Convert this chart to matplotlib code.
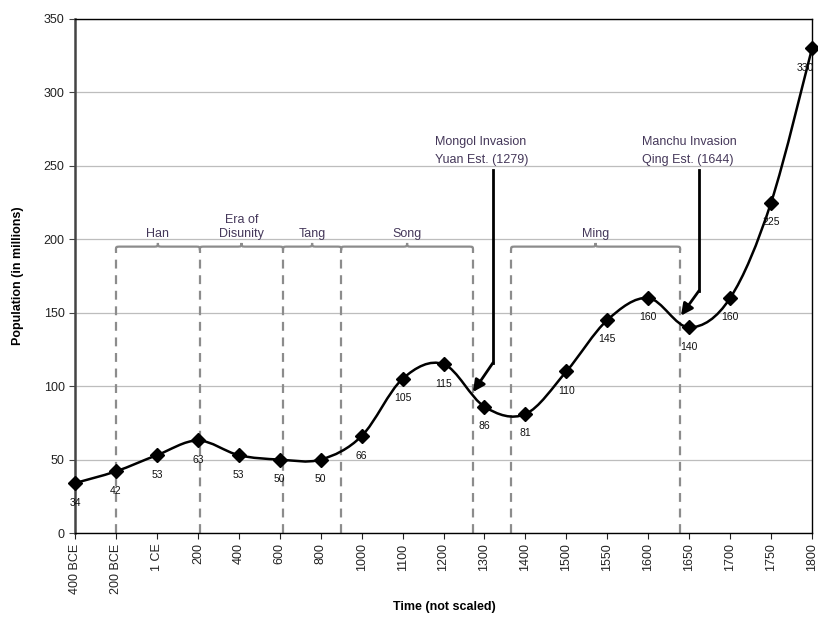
import numpy as np
import matplotlib.pyplot as plt
from matplotlib.path import Path
from matplotlib.patches import PathPatch

plt.rcParams['font.family'] = ['Liberation Sans', 'DejaVu Sans']

# population of China, millions
periods = ["400 BCE", "200 BCE", "1 CE", "200", "400", "600", "800", "1000",
           "1100", "1200", "1300", "1400", "1500", "1550", "1600", "1650",
           "1700", "1750", "1800"]
population = [34, 42, 53, 63, 53, 50, 50, 66, 105, 115, 86, 81, 110, 145,
              160, 140, 160, 225, 330]

# dynasties: name, start, end (in category units along the x axis)
dynasties = ["Han", "Era of\nDisunity", "Tang", "Song", "Ming"]
dyn_start = [1.0, 3.05, 5.08, 6.5, 10.65]
dyn_end = [3.05, 5.08, 6.5, 9.72, 14.78]

# invasion events: label, point on curve, elbow of the pointer, text anchor
events = ["Mongol Invasion\nYuan Est. (1279)", "Manchu Invasion\nQing Est. (1644)"]
event_tip = [(9.72, 96), (14.8, 148)]
event_elbow = [(10.21, 116), (15.24, 165)]
event_text = [(8.8, 250), (13.85, 250)]

BRACE_Y = 195
PURPLE = "#45385a"


def smooth_path(xs, ys):
    # Catmull-Rom style bezier through the points (like a "smoothed line")
    pts = np.column_stack([xs, ys]).astype(float)
    n = len(pts)
    verts = [pts[0]]
    codes = [Path.MOVETO]
    for i in range(n - 1):
        p0 = pts[i - 1] if i > 0 else pts[i]
        p1 = pts[i]
        p2 = pts[i + 1]
        p3 = pts[i + 2] if i + 2 < n else pts[i + 1]
        c1 = p1 + (p2 - p0) / 6.0
        c2 = p2 - (p3 - p1) / 6.0
        verts += [c1, c2, p2]
        codes += [Path.CURVE4] * 3
    return Path(verts, codes)


def brace(x0, x1, y, h=2.5, dx=0.12):
    mid = (x0 + x1) / 2
    verts = [(x0, y - h), (x0, y), (x0, y), (x0 + dx, y),
             (mid - dx, y), (mid, y), (mid, y), (mid, y + h),
             (mid, y), (mid, y), (mid + dx, y),
             (x1 - dx, y), (x1, y), (x1, y), (x1, y - h)]
    codes = [Path.MOVETO, Path.CURVE4, Path.CURVE4, Path.CURVE4,
             Path.LINETO, Path.CURVE4, Path.CURVE4, Path.CURVE4,
             Path.CURVE4, Path.CURVE4, Path.CURVE4,
             Path.LINETO, Path.CURVE4, Path.CURVE4, Path.CURVE4]
    return Path(verts, codes)


fig = plt.figure(figsize=(8.18, 6.2), dpi=100)
ax = fig.add_axes([0.0917, 0.1403, 0.9010, 0.8291])

x = np.arange(len(periods))
ax.set_xlim(0, len(periods) - 1)
ax.set_ylim(0, 350)

ax.set_yticks(range(0, 351, 50))
ax.yaxis.grid(True, color="#bdbdbd", linewidth=0.9)
ax.set_axisbelow(True)

# dynasty boundaries and braces
bounds = sorted(set(dyn_start + dyn_end))
for b in bounds:
    ax.plot([b, b], [0, BRACE_Y - 2.5], color="#8c8c8c", linestyle=(0, (4, 3)),
            linewidth=1.6, zorder=1)
for name, s, e in zip(dynasties, dyn_start, dyn_end):
    ax.add_patch(PathPatch(brace(s, e, BRACE_Y), facecolor="none",
                           edgecolor="#8c8c8c", linewidth=1.6, zorder=1))
    ax.text((s + e) / 2, BRACE_Y + 4.5, name, ha="center", va="bottom",
            fontsize=9, color=PURPLE, linespacing=1.25)

# population curve
ax.add_patch(PathPatch(smooth_path(x, population), facecolor="none",
                       edgecolor="black", linewidth=1.8, zorder=3))
ax.plot(x, population, linestyle="none", marker="D", markersize=7,
        color="black", zorder=4, clip_on=False)
for xi, v in zip(x, population):
    # last label sits on the right border, nudge it inwards
    dx = -5 if xi == x[-1] else 0
    ax.annotate(str(v), (xi, v), xytext=(dx, -14), textcoords="offset points",
                ha="center", va="center", fontsize=7.5, color="#111111",
                annotation_clip=False, zorder=5)

# invasion pointers
for label, tip, elbow, pos in zip(events, event_tip, event_elbow, event_text):
    ax.text(pos[0], pos[1], label, ha="left", va="bottom", fontsize=9,
            color=PURPLE, linespacing=1.7)
    ax.plot([elbow[0], elbow[0]], [pos[1] - 3, elbow[1]], color="black",
            linewidth=2, zorder=5)
    ax.annotate("", xy=tip, xytext=elbow,
                arrowprops=dict(arrowstyle="-|>,head_length=0.7,head_width=0.35",
                                color="black", lw=2, shrinkA=0, shrinkB=0),
                zorder=5)

ax.set_xticks(x)
ax.set_xticklabels(periods, rotation=90, fontsize=9, color="#222222")
ax.tick_params(axis="y", labelsize=9, labelcolor="#222222", length=4,
               direction="out", color="#444444")
ax.tick_params(axis="x", length=4, direction="out", color="#222222")

for side in ["top", "right", "bottom"]:
    ax.spines[side].set_color("black")
    ax.spines[side].set_linewidth(1.0)
ax.spines["left"].set_color("#444444")
ax.spines["left"].set_linewidth(1.8)

ax.set_ylabel("Population (in millions)", fontsize=9, fontweight="bold",
              labelpad=14)
fig.text(0.543, 0.021, "Time (not scaled)", ha="center", va="center",
         fontsize=9, fontweight="bold")

fig.savefig("out.png", dpi=100)
